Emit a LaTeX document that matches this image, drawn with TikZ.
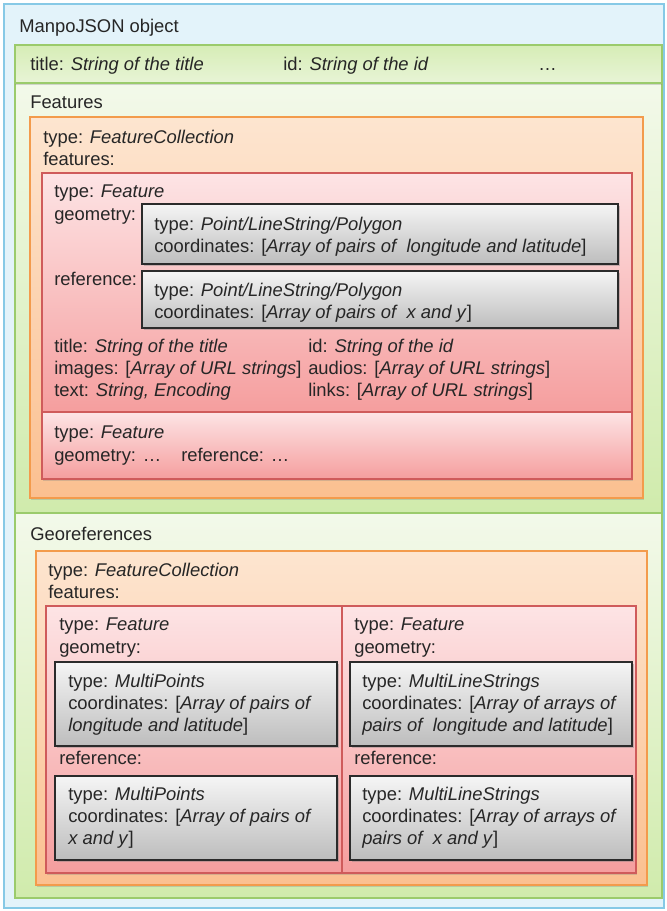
\documentclass[tikz,border=0pt]{standalone}
\usepackage{fontspec}
\setmainfont{Liberation Sans}
\usetikzlibrary{shadows}
\definecolor{blueline}{HTML}{86C9E6}
\definecolor{bluefill}{HTML}{E3F3FA}
\definecolor{greenline}{HTML}{9BCB6C}
\definecolor{greentop}{HTML}{F3F9EA}
\definecolor{greenbot}{HTML}{D0EBAC}
\definecolor{bartop}{HTML}{D6EDB6}
\definecolor{barbot}{HTML}{E8F4D6}
\definecolor{orangeline}{HTML}{F39B4C}
\definecolor{orangetop}{HTML}{FDE5D0}
\definecolor{orangebot}{HTML}{FBC090}
\definecolor{redline}{HTML}{CF5B5B}
\definecolor{redtop}{HTML}{FDE4E5}
\definecolor{redbot}{HTML}{F59E9E}
\definecolor{graytop}{HTML}{F5F5F5}
\definecolor{graybot}{HTML}{BDBDBD}
\definecolor{grayline}{HTML}{2B2B2B}
\begin{document}
\begin{tikzpicture}[x=0.75pt,y=-0.75pt,
    every node/.style={font=\fontsize{13.8}{16.6}\selectfont,text=black!85},
    txt/.style={anchor=north west,inner sep=0pt,align=left},
    bluebox/.style={draw=blueline,fill=bluefill,line width=1.1pt},
    titlebar/.style={draw=greenline,top color=bartop,bottom color=barbot,line width=1.1pt,
        drop shadow={shadow xshift=0pt,shadow yshift=-1.2pt,opacity=.3}},
    area/.style={draw=greenline,top color=greentop,bottom color=greenbot,line width=1.1pt},
    orangebox/.style={draw=orangeline,top color=orangetop,bottom color=orangebot,line width=1.1pt,
        drop shadow={shadow xshift=1pt,shadow yshift=-1.2pt,opacity=.3}},
    redbox/.style={draw=redline,top color=redtop,bottom color=redbot,line width=1pt,
        drop shadow={shadow xshift=1pt,shadow yshift=-1.2pt,opacity=.3}},
    graybox/.style={draw=grayline,top color=graytop,bottom color=graybot,line width=1.4pt,
        drop shadow={shadow xshift=1.2pt,shadow yshift=-1.5pt,opacity=.4}}]
    \useasboundingbox (0,0) rectangle (667,911);
    \draw[bluebox] (4,4) rectangle (664,908);
    \node[txt] (objname) at (19,19) {ManpoJSON object};
    \draw[area] (15,83) rectangle (662,513);
    \draw[area] (15,513) rectangle (662,898);
    \draw[titlebar] (15,45) rectangle (662,83);
    \node[txt] (titlekey) at (30,57) {title: \textit{String of the title}};
    \node[txt] (idkey) at (283,57) {id: \textit{String of the id}};
    \node[txt] (morekeys) at (538,57) {\vphantom{f}…};
    \node[txt] (featname) at (30,96) {Features};
    \draw[orangebox] (30,117) rectangle (643,498);
    \node[txt] (featcoll) at (43,130) {type: \textit{FeatureCollection}\\features:};
    \draw[redbox] (42,173) rectangle (632,412);
    \node[txt] (feat) at (54,185) {type: \textit{Feature}\\geometry:};
    \draw[graybox] (142,204) rectangle (618,264);
    \node[txt] (featgeom) at (154,217) {type: \textit{Point/LineString/Polygon}\\coordinates: [\textit{Array of pairs of\ \ longitude and latitude}]};
    \node[txt] (featrefkey) at (54,272) {reference:};
    \draw[graybox] (142,271) rectangle (618,328);
    \node[txt] (featref) at (154,283) {type: \textit{Point/LineString/Polygon}\\coordinates: [\textit{Array of pairs of\ \ x and y}]};
    \node[txt] (featprops) at (54,339) {title: \textit{String of the title}\\images: [\textit{Array of URL strings}]\\text: \textit{String, Encoding}};
    \node[txt] (featmedia) at (308,339) {id: \textit{String of the id}\\audios: [\textit{Array of URL strings}]\\links: [\textit{Array of URL strings}]};
    \draw[redbox] (42,412) rectangle (632,479);
    \node[txt] (featb) at (54,426) {type: \textit{Feature}\\geometry: …};
    \node[txt] (featbref) at (181,448) {reference: …};
    \node[txt] (georefname) at (30,527) {Georeferences};
    \draw[orangebox] (36,551) rectangle (647,885);
    \node[txt] (georefcoll) at (48,563) {type: \textit{FeatureCollection}\\features:};
    \draw[redbox] (46,606) rectangle (342,873);
    \draw[redbox] (342,606) rectangle (636,873);
    \node[txt] (ptfeat) at (59,618) {type: \textit{Feature}\\geometry:};
    \draw[graybox] (55,662) rectangle (337,746);
    \node[txt] (ptgeom) at (68,674) {type: \textit{MultiPoints}\\coordinates: [\textit{Array of pairs of}\\\textit{longitude and latitude}]};
    \node[txt] (ptrefkey) at (59,751) {reference:};
    \draw[graybox] (55,776) rectangle (337,860);
    \node[txt] (ptref) at (68,787) {type: \textit{MultiPoints}\\coordinates: [\textit{Array of pairs of}\\\textit{x and y}]};
    \node[txt] (linefeat) at (354,618) {type: \textit{Feature}\\geometry:};
    \draw[graybox] (350,662) rectangle (632,746);
    \node[txt] (linegeom) at (362,674) {type: \textit{MultiLineStrings}\\coordinates: [\textit{Array of arrays of}\\\textit{pairs of\ \ longitude and latitude}]};
    \node[txt] (linerefkey) at (354,751) {reference:};
    \draw[graybox] (350,776) rectangle (632,860);
    \node[txt] (lineref) at (362,787) {type: \textit{MultiLineStrings}\\coordinates: [\textit{Array of arrays of}\\\textit{pairs of\ \ x and y}]};
\end{tikzpicture}
\end{document}
